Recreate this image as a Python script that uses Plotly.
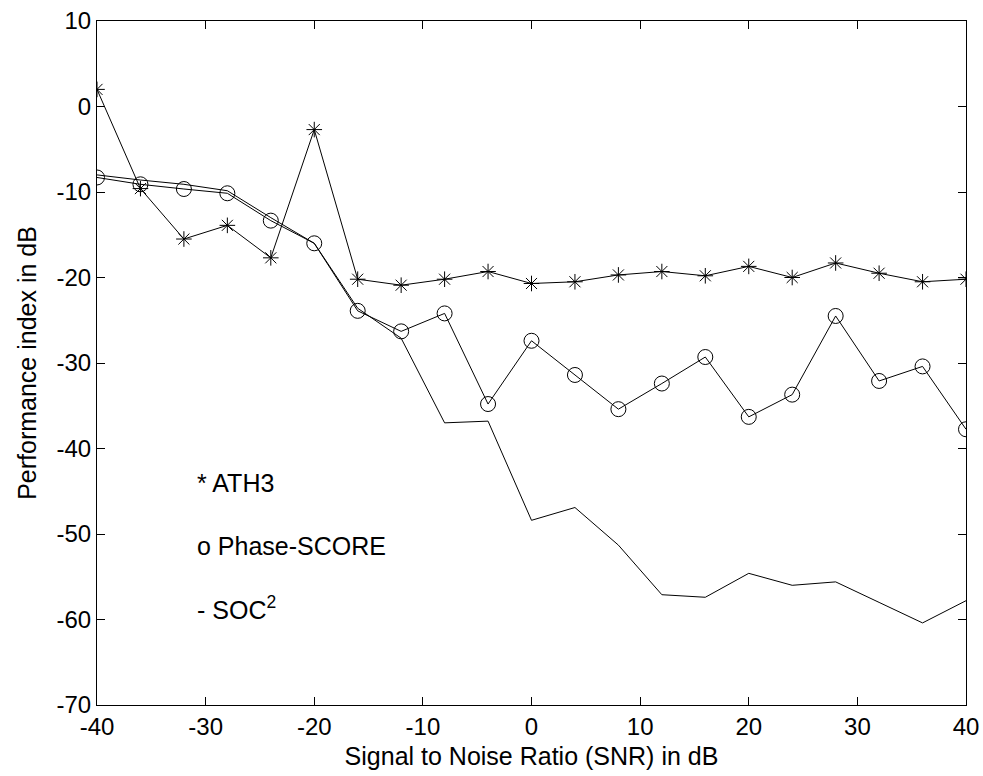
import plotly.graph_objects as go

snr = [-40, -36, -32, -28, -24, -20, -16, -12, -8, -4, 0, 4, 8, 12, 16, 20, 24, 28, 32, 36, 40]
ath3 = [2.0, -9.6, -15.5, -13.9, -17.7, -2.7, -20.2, -20.9, -20.2, -19.3, -20.7, -20.5,
        -19.7, -19.3, -19.8, -18.7, -20.0, -18.3, -19.5, -20.5, -20.2]
phase_score = [-8.3, -9.1, -9.65, -10.15, -13.35, -16.0, -23.9, -26.3, -24.2, -34.8, -27.4, -31.4,
               -35.4, -32.4, -29.3, -36.3, -33.7, -24.5, -32.1, -30.4, -37.75]
soc2 = [-8.0, -8.6, -9.1, -9.85, -13.0, -16.0, -23.6, -27.1, -37.0, -36.8, -48.4, -46.9,
        -51.3, -57.1, -57.4, -54.6, -56.0, -55.6, -58.0, -60.4, -57.8]

x_ticks = [-40, -30, -20, -10, 0, 10, 20, 30, 40]
y_ticks = [-70, -60, -50, -40, -30, -20, -10, 0, 10]

legend_texts = ["* ATH3", "o Phase-SCORE", "- SOC<sup>2</sup>"]
legend_y = [-44.0, -51.4, -58.6]
legend_x = -31.0

FONT = "Liberation Sans, Arial, sans-serif"

fig = go.Figure()
fig.add_trace(go.Scatter(x=snr, y=soc2, mode="lines",
                         line=dict(color="black", width=1), showlegend=False))
fig.add_trace(go.Scatter(x=snr, y=phase_score, mode="lines+markers",
                         line=dict(color="black", width=1),
                         marker=dict(symbol="circle-open", size=15, color="black", line=dict(width=1)),
                         showlegend=False))
fig.add_trace(go.Scatter(x=snr, y=ath3, mode="lines+markers",
                         line=dict(color="black", width=1),
                         marker=dict(symbol="asterisk-open", size=13, color="black", line=dict(width=1)),
                         showlegend=False))

for t, yy in zip(legend_texts, legend_y):
    fig.add_annotation(x=legend_x, y=yy, xref="x", yref="y", text=t, showarrow=False,
                       xanchor="left", yanchor="middle",
                       font=dict(family=FONT, size=25, color="black"))

axis_common = dict(showline=True, linecolor="black", linewidth=1, mirror="ticks",
                   ticks="inside", ticklen=8, tickcolor="black", tickwidth=1,
                   showgrid=False, zeroline=False, automargin=False,
                   tickfont=dict(family=FONT, size=24, color="black"))

fig.update_xaxes(range=[-40, 40], tickvals=x_ticks, ticktext=[str(v) for v in x_ticks],
                 title=dict(text="Signal to Noise Ratio (SNR) in dB",
                            font=dict(family=FONT, size=25, color="black"), standoff=8),
                 **axis_common)
fig.update_yaxes(range=[-70, 10], tickvals=y_ticks, ticktext=[str(v) for v in y_ticks],
                 title=dict(text="Performance index in dB",
                            font=dict(family=FONT, size=25, color="black"), standoff=12),
                 **axis_common)

fig.update_layout(width=983, height=776,
                  margin=dict(l=97, r=17, t=21, b=71),
                  plot_bgcolor="white", paper_bgcolor="white")

fig.write_html("out.html", config={"displayModeBar": False},
               post_script="document.body.style.margin='0px';")
